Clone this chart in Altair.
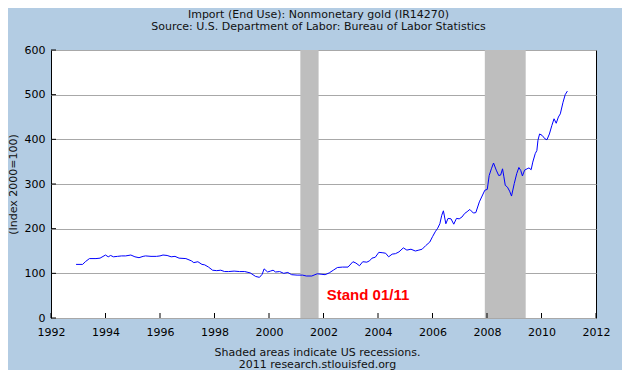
import altair as alt
import pandas as pd

years = [1992.92, 1993.16, 1993.26, 1993.41, 1993.65, 1993.80, 1994.00, 1994.10, 1994.19, 1994.29,
         1994.44, 1994.59, 1994.74, 1994.93, 1995.08, 1995.23, 1995.38, 1995.47, 1995.67, 1995.87,
         1996.00, 1996.11, 1996.26, 1996.41, 1996.55, 1996.70, 1996.95, 1997.15, 1997.24, 1997.39,
         1997.54, 1997.64, 1997.78, 1997.93, 1998.08, 1998.23, 1998.37, 1998.52, 1998.72, 1998.92,
         1999.11, 1999.31, 1999.51, 1999.65, 1999.75, 1999.82, 1999.95, 2000.05, 2000.15, 2000.24,
         2000.39, 2000.54, 2000.69, 2000.83, 2001.03, 2001.23, 2001.37, 2001.57, 2001.77, 2001.91,
         2002.06, 2002.21, 2002.36, 2002.51, 2002.70, 2002.90, 2003.08, 2003.19, 2003.32, 2003.44,
         2003.59, 2003.69, 2003.78, 2003.90, 2004.03, 2004.18, 2004.28, 2004.39, 2004.52, 2004.64,
         2004.77, 2004.93, 2005.06, 2005.21, 2005.37, 2005.50, 2005.62, 2005.75, 2005.90, 2006.00,
         2006.10, 2006.19, 2006.27, 2006.34, 2006.40, 2006.49, 2006.57, 2006.68, 2006.78, 2006.88,
         2006.98, 2007.08, 2007.18, 2007.27, 2007.37, 2007.50, 2007.59, 2007.72, 2007.92, 2008.01,
         2008.08, 2008.16, 2008.24, 2008.34, 2008.43, 2008.50, 2008.57, 2008.62, 2008.67, 2008.75,
         2008.83, 2008.90, 2009.00, 2009.09, 2009.17, 2009.24, 2009.30, 2009.38, 2009.47, 2009.54,
         2009.62, 2009.68, 2009.77, 2009.83, 2009.87, 2009.93, 2010.02, 2010.13, 2010.20, 2010.29,
         2010.38, 2010.46, 2010.54, 2010.62, 2010.69, 2010.79, 2010.87, 2010.95]
values = [120, 120, 126, 133, 133, 134, 141, 137, 140, 137,
          138, 139, 139, 141, 137, 135, 138, 139, 138, 138,
          139, 141, 140, 137, 138, 134, 133, 128, 124, 126,
          120, 119, 114, 107, 106, 107, 104, 104, 105, 104,
          104, 101, 93, 91, 98, 110, 103, 105, 107, 103,
          104, 100, 102, 97, 96, 96, 94, 94, 99, 98,
          97, 101, 107, 113, 114, 114, 126, 123, 117, 126,
          125, 128, 134, 136, 147, 146, 145, 137, 143, 144,
          148, 157, 152, 154, 150, 152, 154, 162, 170, 182,
          193, 201, 211, 230, 240, 211, 223, 222, 210, 223,
          222, 226, 234, 238, 243, 235, 236, 260, 286, 288,
          319, 334, 347, 331, 319, 320, 334, 316, 297, 293,
          284, 273, 301, 323, 337, 330, 318, 331, 334, 336,
          332, 349, 368, 375, 398, 412, 409, 401, 399, 412,
          431, 446, 436, 450, 457, 483, 500, 508]

rec_start = [2001.15, 2007.92]
rec_end = [2001.82, 2009.42]

tick_years = list(range(1992, 2013, 2))
y_ticks = list(range(0, 601, 100))

title_lines = ["Import (End Use): Nonmonetary gold (IR14270)",
               "Source: U.S. Department of Labor: Bureau of Labor Statistics"]
footer_lines = ["Shaded areas indicate US recessions.", "2011 research.stlouisfed.org"]
y_title = "(Index 2000=100)"
note_text = ["Stand 01/11"]
note_x = [2002.12]
note_y = [40]

df = pd.DataFrame({"year": years, "value": values})
rec = pd.DataFrame({"start": rec_start, "end": rec_end})
xt = pd.DataFrame({"tick": tick_years})
yt = pd.DataFrame({"tick": y_ticks})
note = pd.DataFrame({"x": note_x, "y": note_y, "t": note_text})

W, H = 545, 268
xscale = alt.Scale(domain=[1992, 2012], nice=False, zero=False)
yscale = alt.Scale(domain=[0, 600], nice=False)

FONT = "DejaVu Sans"

xaxis = alt.Axis(values=tick_years, format="d", grid=False, ticks=False, tickSize=0,
                 domain=False, labelPadding=8, labelFlush=False, labelFontSize=11,
                 labelFont=FONT, labelColor="black", title=footer_lines, titleFont=FONT,
                 titleFontSize=11, titleFontWeight="normal", titleColor="#111",
                 titlePadding=9, titleLineHeight=12, titleX=266)
yaxis = alt.Axis(values=y_ticks, grid=True, gridColor="#A8A8A8",
                 ticks=False, tickSize=0, domain=False, labelPadding=6, labelFontSize=11,
                 labelFont=FONT, labelColor="black", labelFlush=False, title=y_title,
                 titleFont=FONT, titleFontSize=11, titleFontWeight="normal",
                 titleColor="#111", titlePadding=6)

recs = alt.Chart(rec).mark_rect(color="#BEBEBE").encode(
    x=alt.X("start:Q", scale=xscale, axis=xaxis),
    x2="end:Q",
    y=alt.value(0),
    y2=alt.value(H),
)

line = alt.Chart(df).mark_line(color="#0000FF", strokeWidth=1).encode(
    x=alt.X("year:Q", scale=xscale, axis=xaxis),
    y=alt.Y("value:Q", scale=yscale, axis=yaxis),
)

xtk = alt.Chart(xt).mark_rule(color="black", strokeWidth=1).encode(
    x=alt.X("tick:Q", scale=xscale),
    y=alt.value(H),
    y2=alt.value(H - 5),
)

ytk = alt.Chart(yt).mark_rule(color="black", strokeWidth=1).encode(
    y=alt.Y("tick:Q", scale=yscale),
    x=alt.value(0),
    x2=alt.value(5),
)

txt = alt.Chart(note).mark_text(color="#FF0000", font="Liberation Sans", fontWeight="bold",
                                fontSize=15, align="left", baseline="alphabetic").encode(
    x=alt.X("x:Q", scale=xscale),
    y=alt.Y("y:Q", scale=yscale),
    text="t:N",
)

chart = alt.layer(recs, line, xtk, ytk, txt).properties(
    width=W,
    height=H,
    autosize=alt.AutoSizeParams(type="none"),
    padding={"left": 43, "top": 42, "right": 26, "bottom": 52},
    background="#B3CCE3",
    title=alt.Title(title_lines, fontSize=11, fontWeight="normal", font=FONT,
                    color="#111", anchor="middle", dx=-5, offset=12, lineHeight=12),
).configure_view(stroke="black", strokeWidth=1, fill="white")

chart.save("out.html", embed_options={"renderer": "svg", "actions": False})
